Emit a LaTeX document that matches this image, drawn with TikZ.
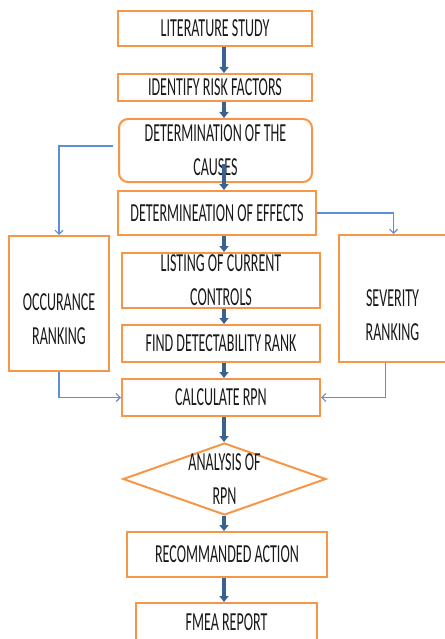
\documentclass[tikz,border=0pt]{standalone}
\usepackage{fontspec}
\setmainfont{Carlito}[FakeStretch=0.54]
\usetikzlibrary{arrows.meta,shapes.geometric,calc}
\definecolor{boxorange}{HTML}{F79646}
\definecolor{flowblue}{HTML}{3A6193}
\definecolor{sideblue}{HTML}{5B8FD6}
\definecolor{txt}{HTML}{1A1A1A}
\begin{document}
\begin{tikzpicture}[x=1pt,y=-1pt,
  boxtext/.style={text=txt, align=center, font=\fontsize{26}{34}\selectfont},
  stepbox/.style={draw=boxorange, line width=2pt, fill=white, inner sep=0pt, boxtext},
  flow/.style={draw=flowblue, line width=3.5pt, -{Triangle[width=9pt,length=6pt]}},
  side/.style={draw=sideblue, line width=1.1pt, -{Straight Barb[length=4pt,width=8pt]}}]
\useasboundingbox (0,0) rectangle (444,639);
\coordinate (axis) at (224,0);
\node[stepbox, minimum width=194pt, minimum height=35pt] (lit) at (215,28.5) {LITERATURE STUDY};
\node[stepbox, minimum width=194pt, minimum height=27pt] (idf) at (215,87.5) {IDENTIFY RISK FACTORS};
\node[stepbox, rounded corners=9pt, minimum width=193pt, minimum height=63pt] (cause) at (215.5,150.5) {DETERMINATION OF THE\\CAUSES};
\node[stepbox, minimum width=198pt, minimum height=44pt] (eff) at (217,213) {DETERMINEATION OF EFFECTS};
\node[stepbox, minimum width=198pt, minimum height=55pt] (list) at (221,280.5) {LISTING OF CURRENT\\CONTROLS};
\node[stepbox, minimum width=198pt, minimum height=37pt] (find) at (221,343.5) {FIND DETECTABILITY RANK};
\node[stepbox, minimum width=198pt, minimum height=37pt] (calc) at (221,397.5) {CALCULATE RPN};
\node[stepbox, minimum width=100pt, minimum height=135pt,
  label={[boxtext, yshift=-16pt]center:OCCURANCE\\RANKING}] (occ) at (59,303.5) {};
\node[stepbox, minimum width=107pt, minimum height=127pt,
  label={[boxtext, yshift=-17pt]center:SEVERITY\\RANKING}] (sev) at (392.5,298.5) {};
\node[stepbox, diamond, minimum width=203pt, minimum height=72pt,
  label={[boxtext]center:ANALYSIS OF\\RPN}] (dia) at (224.5,479) {};
\node[stepbox, minimum width=200pt, minimum height=45pt] (rec) at (227,554.5) {RECOMMANDED ACTION};
\node[stepbox, minimum width=181pt, minimum height=38pt] (fmea) at (226.5,622) {FMEA REPORT};

\draw[flow] (lit.south -| axis) -- (idf.north -| axis);
\draw[flow] (idf.south -| axis) -- (cause.north -| axis);
\draw[flow] ($(cause.south -| axis)+(0,-19)$) -- (eff.north -| axis);
\draw[flow] (eff.south -| axis) -- (list.north -| axis);
\draw[flow] (list.south -| axis) -- (find.north -| axis);
\draw[flow] (find.south -| axis) -- (calc.north -| axis);
\draw[flow] (calc.south -| axis) -- (dia.north -| axis);
\draw[flow] (dia.south -| axis) -- (rec.north -| axis);
\draw[flow] (rec.south -| axis) -- (fmea.north -| axis);

\draw[side] ($(cause.west)+(-5,-4.5)$) -| (occ.north);
\draw[side] (eff.east) -| ([xshift=1pt]sev.north);
\draw[side] (occ.south) |- (calc.west);
\draw[side] ([xshift=-7pt]sev.south) |- (calc.east);
\end{tikzpicture}
\end{document}
